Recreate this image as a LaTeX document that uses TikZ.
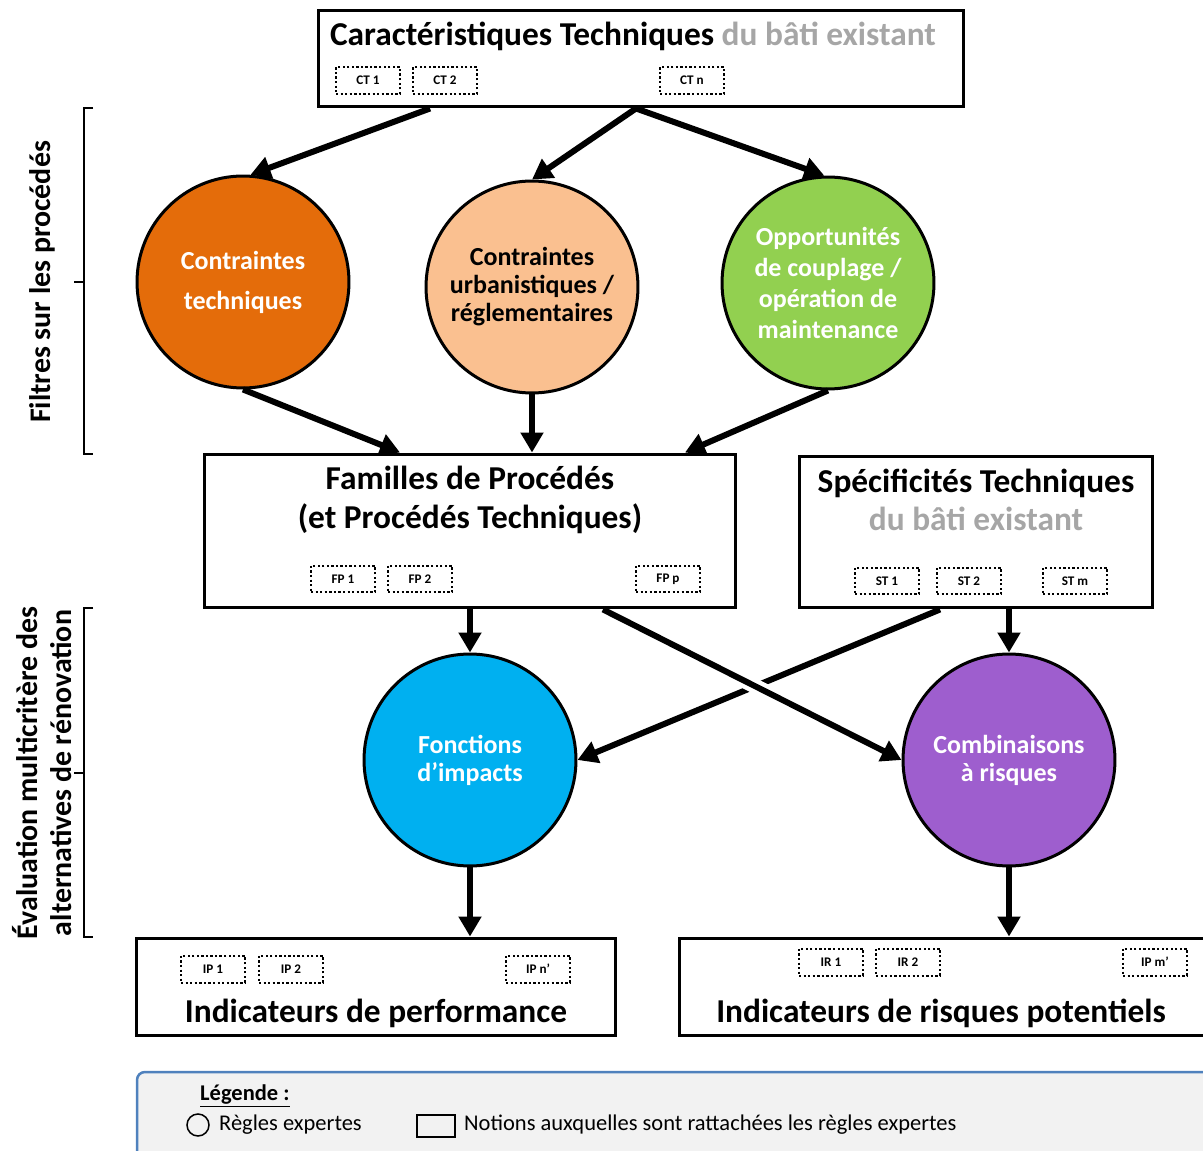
\documentclass[tikz,border=0pt]{standalone}
\usepackage{fontspec}
\setmainfont{Carlito}
\usetikzlibrary{arrows.meta,calc}
\definecolor{orangeCT}{HTML}{E46C0A}
\definecolor{peche}{HTML}{FAC090}
\definecolor{vert}{HTML}{92D050}
\definecolor{bleu}{HTML}{00B0F0}
\definecolor{violet}{HTML}{9E5ECE}
\definecolor{gris}{HTML}{A6A6A6}
\definecolor{fondleg}{HTML}{F2F2F2}
\definecolor{bordleg}{HTML}{4F81BD}

\begin{document}
\begin{tikzpicture}[x=0.02cm, y=-0.02cm,
    fleche/.style={line width=0.12cm, -{Triangle[length=0.4cm, width=0.44cm]}},
    regle/.style={circle, draw, line width=0.06cm, minimum size=4.24cm, inner sep=0pt, align=center, text=white, font=\fontsize{14.8}{15.9}\selectfont\bfseries},
    cadre/.style={draw, line width=0.06cm, inner sep=0pt},
    etiq/.style={draw, dash pattern=on 1.3pt off 1.3pt, line width=0.04cm, minimum width=1.28cm, minimum height=0.54cm, inner sep=0pt, font=\fontsize{7.5}{8}\selectfont\bfseries},
    titre/.style={align=center, font=\fontsize{19}{22}\selectfont\bfseries},
    gauche/.style={rotate=90, align=center, font=\fontsize{17}{19.5}\selectfont\bfseries}]
    \useasboundingbox (0,0) rectangle (1203,1151);

    % 1. CARACTERISTIQUES TECHNIQUES
    \node[cadre, minimum width=12.92cm, minimum height=1.94cm] (ct) at (641,58.5) {};
    \node[titre] (ct-titre) at (633,36) {Caractéristiques Techniques \textcolor{gris}{du bâti existant}};
    \node[etiq] (ct1) at (368,80.5) {CT 1};
    \node[etiq] (ct2) at (445,80.5) {CT 2};
    \node[etiq] (ctn) at (692,80.5) {CT n};

    % 2. FILTRES (regles expertes)
    \node[regle, fill=orangeCT] (contr) at (243,282) {Contraintes\\[0.24cm]techniques};
    \node[regle, fill=peche, text=black] (urba) at (532,287) {Contraintes\\urbanistiques /\\réglementaires};
    \node[regle, fill=vert, font=\fontsize{14.8}{17.6}\selectfont\bfseries] (oppo) at (828,283) {Opportunités\\de couplage /\\opération de\\maintenance};

    % 3. FAMILLES DE PROCEDES ET SPECIFICITES
    \node[cadre, minimum width=10.64cm, minimum height=3.08cm] (fp) at (470,531) {};
    \node[titre] (fp-titre) at (470,500) {Familles de Procédés\\(et Procédés Techniques)};
    \node[etiq] (fp1) at (343,579) {FP 1};
    \node[etiq] (fp2) at (420,579) {FP 2};
    \node[etiq] (fpp) at (668,579) {FP p};

    \node[cadre, minimum width=7.08cm, minimum height=3.04cm] (st) at (976,532) {};
    \node[titre] (st-titre) at (976,500) {Spécificités Techniques\\\textcolor{gris}{du bâti existant}};
    \node[etiq] (st1) at (887,581) {ST 1};
    \node[etiq] (st2) at (969,581) {ST 2};
    \node[etiq] (stm) at (1075,581) {ST m};

    % 4. EVALUATION (regles expertes)
    \node[regle, fill=bleu] (fi) at (470,760) {Fonctions\\d’impacts};
    \node[regle, fill=violet] (cr) at (1009,760) {Combinaisons\\à risques};

    % 5. INDICATEURS
    \node[cadre, minimum width=9.6cm, minimum height=1.96cm] (ip) at (376,987) {};
    \node[titre] (ip-titre) at (376,1013) {Indicateurs de performance};
    \node[etiq] (ip1) at (213,969) {IP 1};
    \node[etiq] (ip2) at (291,969) {IP 2};
    \node[etiq] (ipn) at (538,969) {IP n’};

    \node[cadre, minimum width=10.62cm, minimum height=1.96cm] (ir) at (944.5,987) {};
    \node[titre] (ir-titre) at (941,1013) {Indicateurs de risques potentiels};
    \node[etiq] (ir1) at (831,962) {IR 1};
    \node[etiq] (ir2) at (908,962) {IR 2};
    \node[etiq] (ipm) at (1155,962) {IP m’};

    % 6. FLECHES
    \draw[fleche] ([xshift=-4.22cm]ct.south) -- (contr.86);
    \draw[fleche] ([xshift=-0.1cm]ct.south) -- (urba.north);
    \draw[fleche] ([xshift=-0.1cm]ct.south) -- (oppo.92);
    \draw[fleche] (contr.south) -- ([xshift=-1.4cm]fp.north);
    \draw[fleche] (urba.south) -- (urba.south |- fp.north);
    \draw[fleche] (oppo.south) -- ([xshift=4.3cm]fp.north);
    \draw[fleche] (fp.south) -- (fi.north);
    \draw[fleche] ([xshift=-0.72cm]st.south) -- (fi.east);
    % croisement : la fleche FP -> CR passe devant
    \coordinate (fp-cr) at ([xshift=2.66cm]fp.south);
    \draw[white, line width=0.3cm] ($(fp-cr)!0.35!(cr.west)$) -- ($(fp-cr)!0.65!(cr.west)$);
    \draw[fleche] (fp-cr) -- (cr.west);
    \draw[fleche] (cr.north |- st.south) -- (cr.north);
    \draw[fleche] (fi.south) -- (fi.south |- ip.north);
    \draw[fleche] (cr.south) -- (cr.south |- ir.north);

    % 7. ACCOLADES ET TITRES A GAUCHE
    \draw[line width=0.03cm] (93,108) -- (84,108) -- (84,454) -- (93,454);
    \draw[line width=0.03cm] (84,282) -- (74,282);
    \node[gauche] (filtres) at (42,282) {Filtres sur les procédés};
    \draw[line width=0.03cm] (93,608) -- (84,608) -- (84,937) -- (93,937);
    \draw[line width=0.03cm] (84,773) -- (74,773);
    \node[gauche] (evaluation) at (42,773) {Évaluation multicritère des\\alternatives de rénovation};

    % 8. LEGENDE
    \draw[draw=bordleg, fill=fondleg, line width=0.05cm, rounded corners=0.16cm] (137,1072) rectangle (1215,1180);
    \node[anchor=west, font=\fontsize{12.8}{14}\selectfont\bfseries] (leg) at (194,1096) {\underline{Légende :}};
    \node[circle, draw, line width=0.03cm, minimum size=0.44cm, inner sep=0pt] (leg-cercle) at (198,1125) {};
    \node[anchor=west, font=\fontsize{12.8}{14}\selectfont] (leg-regles) at (213,1125) {Règles expertes};
    \node[draw, line width=0.03cm, minimum width=0.76cm, minimum height=0.44cm, inner sep=0pt] (leg-cadre) at (436,1126) {};
    \node[anchor=west, font=\fontsize{12.8}{14}\selectfont] (leg-notions) at (458,1125) {Notions auxquelles sont rattachées les règles expertes};
\end{tikzpicture}
\end{document}
